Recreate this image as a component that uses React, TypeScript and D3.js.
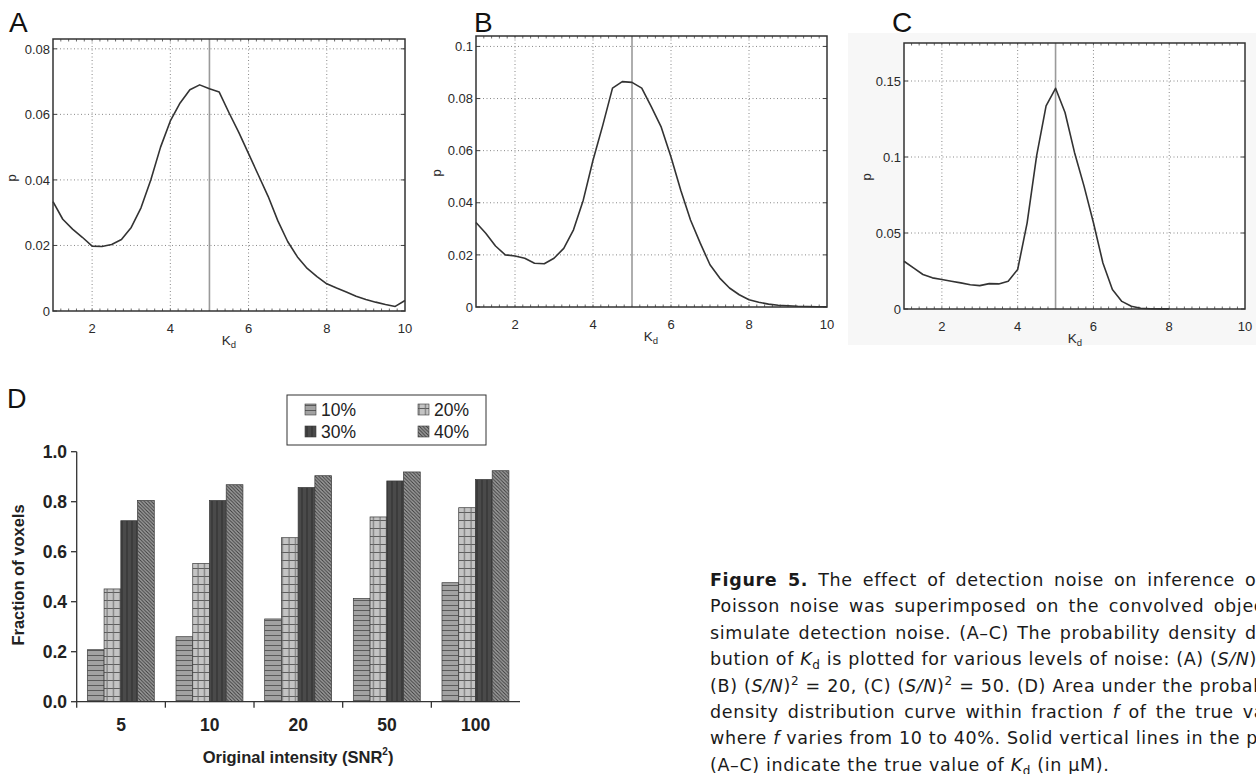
import { useEffect, useRef } from "react";
import * as d3 from "d3";

// Kd grid (uM) used for the three probability density curves
const kd = [1, 1.25, 1.5, 1.75, 2, 2.25, 2.5, 2.75, 3, 3.25, 3.5, 3.75, 4, 4.25, 4.5, 4.75, 5, 5.25, 5.5, 5.75, 6, 6.25, 6.5, 6.75, 7, 7.25, 7.5, 7.75, 8, 8.25, 8.5, 8.75, 9, 9.25, 9.5, 9.75, 10];

// (S/N)^2 = 5
const pA = [0.0334, 0.028, 0.025, 0.0225, 0.0198, 0.0197, 0.0203, 0.0218, 0.0255, 0.0315, 0.04, 0.05, 0.058, 0.0635, 0.0675, 0.069, 0.0678, 0.0668, 0.0605, 0.0545, 0.048, 0.0415, 0.035, 0.0275, 0.0212, 0.0165, 0.013, 0.0105, 0.0083, 0.007, 0.0058, 0.0045, 0.0035, 0.0027, 0.002, 0.0014, 0.0032];
// (S/N)^2 = 20
const pB = [0.0324, 0.0283, 0.0234, 0.02, 0.0196, 0.0187, 0.0168, 0.0166, 0.0187, 0.0225, 0.0296, 0.041, 0.0563, 0.0697, 0.084, 0.0865, 0.0862, 0.084, 0.0767, 0.069, 0.0576, 0.0448, 0.0334, 0.0245, 0.0162, 0.0111, 0.0073, 0.0047, 0.0028, 0.0018, 0.0011, 0.0007, 0.0005, 0.0003, 0.0002, 0.0001, 0.0001];
// (S/N)^2 = 50 (curve stops at Kd = 8)
const pC = [0.0314, 0.027, 0.0227, 0.0205, 0.0194, 0.0183, 0.0172, 0.016, 0.0154, 0.0167, 0.0165, 0.0183, 0.026, 0.0567, 0.1007, 0.1337, 0.1452, 0.1293, 0.103, 0.081, 0.0567, 0.0303, 0.0128, 0.005, 0.0018, 0.0005, 0.0002, 0.0001, 0.0001];

const ticksA = [0, 0.02, 0.04, 0.06, 0.08];
const ticksB = [0, 0.02, 0.04, 0.06, 0.08, 0.1];
const ticksC = [0, 0.05, 0.1, 0.15];
const kdTicks = [2, 4, 6, 8, 10];
const trueKd = 5;

// panel D
const snr = ["5", "10", "20", "50", "100"];
const fractions = ["10%", "20%", "30%", "40%"];
const f10 = [0.208, 0.26, 0.331, 0.413, 0.476];
const f20 = [0.451, 0.553, 0.656, 0.739, 0.776];
const f30 = [0.724, 0.805, 0.857, 0.883, 0.889];
const f40 = [0.805, 0.868, 0.904, 0.919, 0.924];
const fracTicks = [0, 0.2, 0.4, 0.6, 0.8, 1.0];

type Seg = [string, string?];
const caption: Seg[][] = [
  [["Figure 5.", "b"], [" The effect of detection noise on inference of "], ["K", "i"], ["d", "sub"], ["."]],
  [["Poisson noise was superimposed on the convolved object to"]],
  [["simulate detection noise. (A\u2013C) The probability density distri-"]],
  [["bution of "], ["K", "i"], ["d", "sub"], [" is plotted for various levels of noise: (A) ("], ["S/N", "i"], [")"], ["2", "sup"], [" = 5,"]],
  [["(B) ("], ["S/N", "i"], [")"], ["2", "sup"], [" = 20, (C) ("], ["S/N", "i"], [")"], ["2", "sup"], [" = 50. (D) Area under the probability"]],
  [["density distribution curve within fraction "], ["f", "i"], [" of the true value,"]],
  [["where "], ["f", "i"], [" varies from 10 to 40%. Solid vertical lines in the panels"]],
  [["(A\u2013C) indicate the true value of "], ["K", "i"], ["d", "sub"], [" (in \u03bcM)."]],
];

const SANS = "'Liberation Sans', Arial, sans-serif";
const CAP = "'DejaVu Sans', sans-serif";

const App = () => {
  const svgRef = useRef<SVGSVGElement>(null);

  useEffect(() => {
    const svg = d3.select(svgRef.current);
    svg.selectAll("*").remove();

    svg.append("rect").attr("width", 1256).attr("height", 774).attr("fill", "#fff");

    const drawDensity = (o: any) => {
      const x = d3.scaleLinear().domain([1, 10]).range([o.x0, o.x1]);
      const y = d3.scaleLinear().domain([0, o.ymax]).range([o.y1, o.y0]);
      const g = svg.append("g");
      if (o.bg) g.append("rect").attr("x", 848).attr("y", 33).attr("width", 408).attr("height", 312).attr("fill", "#f7f7f7");
      g.append("rect").attr("x", o.x0).attr("y", o.y0).attr("width", o.x1 - o.x0).attr("height", o.y1 - o.y0).attr("fill", "#fff");

      // dotted grid
      g.selectAll(".gx").data(kdTicks.filter(t => t < 10)).join("line")
        .attr("x1", d => x(d)).attr("x2", d => x(d)).attr("y1", o.y0).attr("y2", o.y1)
        .attr("stroke", "#888").attr("stroke-dasharray", "1,2.5");
      g.selectAll(".gy").data(o.ticks.filter((t: number) => t > 0)).join("line")
        .attr("x1", o.x0).attr("x2", o.x1).attr("y1", (d: number) => y(d)).attr("y2", (d: number) => y(d))
        .attr("stroke", "#888").attr("stroke-dasharray", "1,2.5");

      // minor ticks along top and bottom
      const minor = d3.range(1.2, 10, 0.2);
      g.selectAll(".mb").data(minor).join("line")
        .attr("x1", d => x(d)).attr("x2", d => x(d)).attr("y1", o.y1).attr("y2", o.y1 - 2.5)
        .attr("stroke", "#444").attr("stroke-width", 0.8);
      g.selectAll(".mt").data(minor).join("line")
        .attr("x1", d => x(d)).attr("x2", d => x(d)).attr("y1", o.y0).attr("y2", o.y0 + 2.5)
        .attr("stroke", "#444").attr("stroke-width", 0.8);
      g.selectAll(".yt").data(o.ticks).join("line")
        .attr("x1", o.x0).attr("x2", o.x0 + 4).attr("y1", (d: number) => y(d)).attr("y2", (d: number) => y(d))
        .attr("stroke", "#444");
      g.selectAll(".yt2").data(o.ticks).join("line")
        .attr("x1", o.x1).attr("x2", o.x1 - 4).attr("y1", (d: number) => y(d)).attr("y2", (d: number) => y(d))
        .attr("stroke", "#444");

      // true Kd
      g.append("line").attr("x1", x(trueKd)).attr("x2", x(trueKd)).attr("y1", o.y0).attr("y2", o.y1)
        .attr("stroke", "#9a9a9a").attr("stroke-width", 1.6);

      const line = d3.line<number>().x((_, i) => x(kd[i])).y(d => y(d));
      g.append("path").attr("d", line(o.data)).attr("fill", "none")
        .attr("stroke", "#333").attr("stroke-width", 1.6).attr("stroke-linejoin", "round");

      g.append("rect").attr("x", o.x0).attr("y", o.y0).attr("width", o.x1 - o.x0).attr("height", o.y1 - o.y0)
        .attr("fill", "none").attr("stroke", "#333").attr("stroke-width", 1.5);

      // tick labels
      g.selectAll(".yl").data(o.ticks).join("text")
        .attr("x", o.x0 - 3).attr("y", (d: number) => y(d)).attr("dy", "0.36em")
        .attr("text-anchor", "end").attr("font-family", SANS).attr("font-size", 13).attr("fill", "#2a2a2a")
        .text((d: number) => (d === 0 ? "0" : String(d)));
      g.selectAll(".xl").data(kdTicks).join("text")
        .attr("x", d => x(d)).attr("y", o.y1 + 22)
        .attr("text-anchor", "middle").attr("font-family", SANS).attr("font-size", 13).attr("fill", "#2a2a2a")
        .text(d => String(d));

      g.append("text").attr("transform", `translate(${o.py[0]},${o.py[1]}) rotate(-90)`)
        .attr("text-anchor", "middle").attr("font-family", SANS).attr("font-size", 13).attr("fill", "#2a2a2a").text("p");
      const kl = g.append("text").attr("x", o.kx).attr("y", o.y1 + 34)
        .attr("text-anchor", "middle").attr("font-family", SANS).attr("font-size", 13.5).attr("fill", "#2a2a2a");
      kl.append("tspan").text("K");
      kl.append("tspan").attr("font-size", 9.5).attr("dy", 3).text("d");

      svg.append("text").attr("x", o.lx).attr("y", 32).attr("font-family", SANS).attr("font-size", 28)
        .attr("fill", "#111").text(o.label);
    };

    drawDensity({ x0: 53, x1: 405, y0: 39, y1: 311, ymax: 0.083, ticks: ticksA, data: pA, label: "A", lx: 9, py: [16, 178], kx: 229 });
    drawDensity({ x0: 476, x1: 827, y0: 36, y1: 307, ymax: 0.104, ticks: ticksB, data: pB, label: "B", lx: 474, py: [441, 173], kx: 651 });
    drawDensity({ x0: 904, x1: 1245, y0: 43, y1: 309, ymax: 0.175, ticks: ticksC, data: pC, label: "C", lx: 892, py: [871, 177], kx: 1075, bg: true });

    // ---------- panel D ----------
    const defs = svg.append("defs");
    const p10 = defs.append("pattern").attr("id", "p10").attr("patternUnits", "userSpaceOnUse").attr("width", 6).attr("height", 5);
    p10.append("rect").attr("width", 6).attr("height", 5).attr("fill", "#a2a2a2");
    p10.append("line").attr("x1", 0).attr("x2", 6).attr("y1", 0.5).attr("y2", 0.5).attr("stroke", "#5a5a5a").attr("stroke-width", 1);
    const p20 = defs.append("pattern").attr("id", "p20").attr("patternUnits", "userSpaceOnUse").attr("width", 6.5).attr("height", 8);
    p20.append("rect").attr("width", 6.5).attr("height", 8).attr("fill", "#c4c4c4");
    p20.append("line").attr("x1", 0).attr("x2", 6.5).attr("y1", 0.5).attr("y2", 0.5).attr("stroke", "#5e5e5e").attr("stroke-width", 1);
    p20.append("line").attr("x1", 3).attr("x2", 3).attr("y1", 0).attr("y2", 8).attr("stroke", "#6a6a6a").attr("stroke-width", 1);
    const p30 = defs.append("pattern").attr("id", "p30").attr("patternUnits", "userSpaceOnUse").attr("width", 5).attr("height", 5);
    p30.append("rect").attr("width", 5).attr("height", 5).attr("fill", "#4a4a4a");
    p30.append("line").attr("x1", 2).attr("x2", 2).attr("y1", 0).attr("y2", 5).attr("stroke", "#2e2e2e").attr("stroke-width", 1);
    const p40 = defs.append("pattern").attr("id", "p40").attr("patternUnits", "userSpaceOnUse").attr("width", 3.5).attr("height", 3.5);
    p40.append("rect").attr("width", 3.5).attr("height", 3.5).attr("fill", "#9c9c9c");
    p40.append("path").attr("d", "M0,0L3.5,3.5M-1,2.5L1,4.5M2.5,-1L4.5,1").attr("stroke", "#3c3c3c").attr("stroke-width", 1);
    const fills = ["url(#p10)", "url(#p20)", "url(#p30)", "url(#p40)"];

    const x0 = d3.scaleBand().domain(snr).range([76.7, 520]);
    const bw = x0.bandwidth();
    const x1 = d3.scaleBand().domain(fractions).range([bw * 0.12, bw * 0.875]);
    const yD = d3.scaleLinear().domain([0, 1]).range([701.7, 451.7]);
    const series = [f10, f20, f30, f40];

    const gD = svg.append("g");
    fractions.forEach((f, si) => {
      gD.append("g").selectAll("rect").data(series[si]).join("rect")
        .attr("x", (_, i) => (x0(snr[i]) as number) + (x1(f) as number))
        .attr("y", d => yD(d)).attr("width", x1.bandwidth()).attr("height", d => yD(0) - yD(d))
        .attr("fill", fills[si]).attr("stroke", "#3a3a3a").attr("stroke-width", 0.7);
    });

    const ax = gD.append("g").attr("stroke", "#333").attr("stroke-width", 1.3);
    ax.append("line").attr("x1", 76.7).attr("x2", 76.7).attr("y1", yD(1)).attr("y2", yD(0) + 6);
    ax.append("line").attr("x1", 76.7).attr("x2", 520).attr("y1", yD(0)).attr("y2", yD(0));
    ax.selectAll(".t").data(fracTicks).join("line")
      .attr("x1", 71).attr("x2", 76.7).attr("y1", d => yD(d)).attr("y2", d => yD(d));
    ax.selectAll(".bt").data(snr.slice(1)).join("line")
      .attr("x1", d => x0(d) as number).attr("x2", d => x0(d) as number).attr("y1", yD(0)).attr("y2", yD(0) + 6);

    gD.selectAll(".yl").data(fracTicks).join("text")
      .attr("x", 67).attr("y", d => yD(d)).attr("dy", "0.36em").attr("text-anchor", "end")
      .attr("font-family", SANS).attr("font-weight", "bold").attr("font-size", 17.5).attr("fill", "#222")
      .text(d => d3.format(".1f")(d));
    gD.selectAll(".xl").data(snr).join("text")
      .attr("x", d => (x0(d) as number) + bw / 2).attr("y", 731).attr("text-anchor", "middle")
      .attr("font-family", SANS).attr("font-weight", "bold").attr("font-size", 17.5).attr("fill", "#222")
      .text(d => d);
    gD.append("text").attr("transform", "translate(24,575) rotate(-90)").attr("text-anchor", "middle")
      .attr("font-family", SANS).attr("font-weight", "bold").attr("font-size", 16.5).attr("fill", "#222")
      .text("Fraction of voxels");
    const xt = gD.append("text").attr("x", 298).attr("y", 763).attr("text-anchor", "middle")
      .attr("font-family", SANS).attr("font-weight", "bold").attr("font-size", 16.5).attr("fill", "#222");
    xt.append("tspan").text("Original intensity (SNR");
    xt.append("tspan").attr("font-size", 10).attr("dy", -8).text("2");
    xt.append("tspan").attr("dy", 8).text(")");

    // legend
    const lg = gD.append("g");
    lg.append("rect").attr("x", 287).attr("y", 395).attr("width", 199).attr("height", 50)
      .attr("fill", "#fff").attr("stroke", "#333").attr("stroke-width", 1);
    fractions.forEach((f, i) => {
      const lx = i % 2 === 0 ? 305 : 418;
      const ly = i < 2 ? 404 : 426;
      lg.append("rect").attr("x", lx).attr("y", ly).attr("width", 11).attr("height", 11)
        .attr("fill", fills[i]).attr("stroke", "#3a3a3a").attr("stroke-width", 0.6);
      lg.append("text").attr("x", lx + 16).attr("y", ly + 11.5).attr("font-family", SANS)
        .attr("font-size", 17.5).attr("fill", "#222").text(f);
    });

    svg.append("text").attr("x", 7).attr("y", 408).attr("font-family", SANS).attr("font-size", 27)
      .attr("fill", "#111").text("D");

    // caption, justified
    const capX = 710;
    const capRight = 1300;
    caption.forEach((segs, li) => {
      const t = svg.append("text").attr("x", capX).attr("y", 586 + li * 26.4)
        .attr("font-family", CAP).attr("font-size", 17.5).attr("letter-spacing", 0.65).attr("fill", "#1a1a1a");
      let shift = 0;
      segs.forEach(([s, st]) => {
        const ts = t.append("tspan").text(s);
        let target = 0;
        if (st === "sub") target = 4;
        if (st === "sup") target = -7;
        if (target !== shift) { ts.attr("dy", target - shift); shift = target; }
        if (st === "b") ts.attr("font-weight", "bold");
        if (st === "i") ts.attr("font-style", "italic");
        if (st === "sub" || st === "sup") ts.attr("font-size", 12);
      });
      if (li < caption.length - 1) {
        const node = t.node() as SVGTextElement;
        const w = node.getComputedTextLength();
        const spaces = segs.map(s => s[0]).join("").split(" ").length - 1;
        if (spaces > 0) t.attr("word-spacing", Math.max(0, (capRight - capX - w) / spaces));
      }
    });
  }, []);

  return (
    <svg ref={svgRef} width={1256} height={774}
      style={{ position: "absolute", left: 0, top: 0, display: "block" }} />
  );
};

export default App;
